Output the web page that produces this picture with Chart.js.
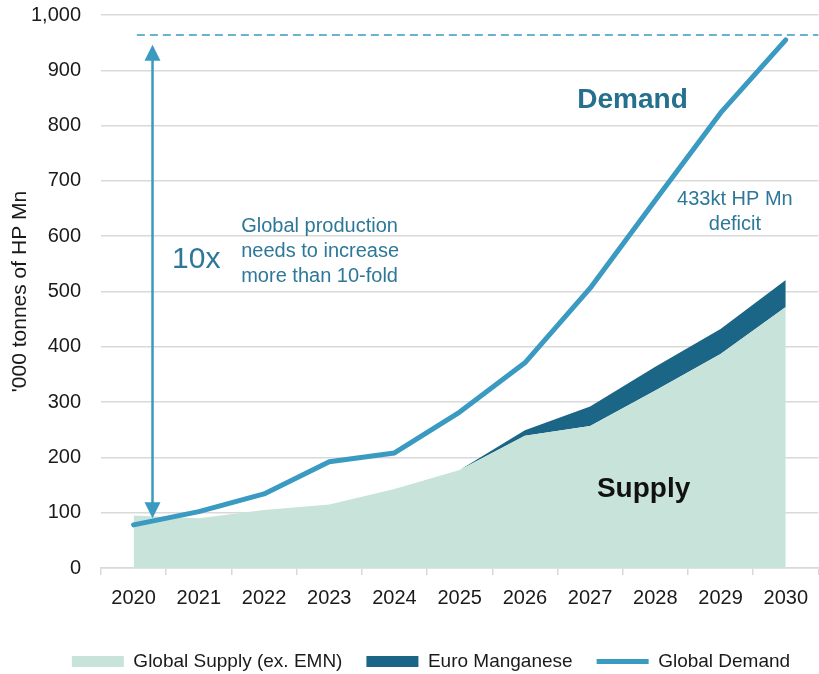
<!DOCTYPE html>
<html>
<head>
<meta charset="utf-8">
<script src="https://cdn.jsdelivr.net/npm/chart.js@4.4.1/dist/chart.umd.min.js"></script>
<style>
  html, body { margin: 0; padding: 0; background: #fff; }
  #wrap { width: 819px; height: 674px; position: relative; }
</style>
</head>
<body>
<div id="wrap"><canvas id="myChart"></canvas></div>
<script>
const years = ['2020', '2021', '2022', '2023', '2024', '2025', '2026', '2027', '2028', '2029', '2030'];
const globalSupply = [95, 90, 105, 115, 143, 177, 239, 257, 321, 387, 472];
const euroManganese = [null, null, null, null, null, 0, 10, 35, 43, 45, 49];
const globalDemand = [78, 102, 134, 192, 208, 282, 371, 506, 665, 823, 955];
const yTicks = { min: 0, max: 1000, step: 100 };

// target line and "10x" arrow, in data units
const targetLevel = 964;
const arrowSpan = [90, 946];

// notes: [text, category position, value, kind]
const notes = [
  ['Demand', 7.65, 846, 'head'],
  ['Supply', 7.82, 143, 'headDark'],
  ['433kt HP Mn', 9.22, 666, 'small'],
  ['deficit', 9.22, 621, 'small'],
  ['10x', 0.96, 558, 'big'],
  ['Global production', 1.65, 618, 'left'],
  ['needs to increase', 1.65, 573, 'left'],
  ['more than 10-fold', 1.65, 528, 'left']
];

const FONT = '"Liberation Sans", Arial, sans-serif';
const teal = '#3a9ac1';
const noteColor = '#2d7898';

const notesPlugin = {
  id: 'notes',
  beforeDraw(chart) {
    // the legend in the original sits a little right of the page centre
    if (chart.legend) {
      chart.legend.left = 40;
    }
  },
  afterDatasetsDraw(chart) {
    const { ctx, chartArea, scales: { x, y } } = chart;
    ctx.save();

    // dashed target line
    ctx.strokeStyle = teal;
    ctx.lineWidth = 1.5;
    ctx.setLineDash([8, 5]);
    ctx.beginPath();
    ctx.moveTo(x.getPixelForValue(0.05), y.getPixelForValue(targetLevel));
    ctx.lineTo(chartArea.right, y.getPixelForValue(targetLevel));
    ctx.stroke();
    ctx.setLineDash([]);

    // double-headed arrow
    const ax = x.getPixelForValue(0.29);
    const yLo = y.getPixelForValue(arrowSpan[0]);
    const yHi = y.getPixelForValue(arrowSpan[1]);
    ctx.lineWidth = 2.5;
    ctx.beginPath();
    ctx.moveTo(ax, yLo - 14);
    ctx.lineTo(ax, yHi + 14);
    ctx.stroke();
    ctx.fillStyle = teal;
    ctx.beginPath();
    ctx.moveTo(ax, yHi);
    ctx.lineTo(ax - 8, yHi + 16);
    ctx.lineTo(ax + 8, yHi + 16);
    ctx.closePath();
    ctx.fill();
    ctx.beginPath();
    ctx.moveTo(ax, yLo);
    ctx.lineTo(ax - 8, yLo - 16);
    ctx.lineTo(ax + 8, yLo - 16);
    ctx.closePath();
    ctx.fill();

    ctx.textBaseline = 'middle';
    notes.forEach(([text, xi, v, kind]) => {
      const px = x.getPixelForValue(xi);
      const py = y.getPixelForValue(v);
      if (kind === 'head') {
        ctx.font = 'bold 28px ' + FONT;
        ctx.fillStyle = '#256f8f';
        ctx.textAlign = 'center';
      } else if (kind === 'headDark') {
        ctx.font = 'bold 28px ' + FONT;
        ctx.fillStyle = '#111';
        ctx.textAlign = 'center';
      } else if (kind === 'big') {
        ctx.font = '30px ' + FONT;
        ctx.fillStyle = noteColor;
        ctx.textAlign = 'center';
      } else if (kind === 'small') {
        ctx.font = '20px ' + FONT;
        ctx.fillStyle = noteColor;
        ctx.textAlign = 'center';
      } else {
        ctx.font = '20px ' + FONT;
        ctx.fillStyle = noteColor;
        ctx.textAlign = 'left';
      }
      ctx.fillText(text, px, py);
    });
    ctx.restore();
  }
};

const ctx = document.getElementById('myChart').getContext('2d');
new Chart(ctx, {
  type: 'line',
  data: {
    labels: years,
    datasets: [
      {
        label: 'Global Supply (ex. EMN)',
        data: globalSupply,
        backgroundColor: '#c8e4da',
        borderColor: '#c8e4da',
        borderWidth: 0,
        pointRadius: 0,
        pointStyle: 'rect',
        fill: 'origin'
      },
      {
        label: 'Euro Manganese',
        data: euroManganese,
        backgroundColor: '#1b6686',
        borderColor: '#1b6686',
        borderWidth: 0,
        pointRadius: 0,
        pointStyle: 'rect',
        fill: '-1'
      },
      {
        label: 'Global Demand',
        data: globalDemand,
        stack: 'demand',
        borderColor: teal,
        backgroundColor: teal,
        borderWidth: 5,
        borderCapStyle: 'round',
        borderJoinStyle: 'round',
        pointRadius: 0,
        pointStyle: 'line',
        fill: false
      }
    ]
  },
  options: {
    responsive: true,
    maintainAspectRatio: false,
    animation: false,
    layout: { padding: { top: 0, left: 0, right: -3, bottom: -7 } },
    scales: {
      x: {
        offset: true,
        grid: {
          offset: true,
          drawOnChartArea: false,
          drawTicks: true,
          tickLength: 7,
          color: '#d9d9d9',
          lineWidth: 1.5
        },
        border: { display: true, color: '#d9d9d9', width: 1.5 },
        ticks: { color: '#1a1a1a', font: { family: FONT, size: 20 }, padding: 11, maxRotation: 0 },
        afterFit(scale) { scale.height = 60; }
      },
      y: {
        stacked: true,
        min: yTicks.min,
        max: yTicks.max,
        border: { display: false },
        grid: { color: '#d9d9d9', lineWidth: 1.5, drawTicks: true, tickLength: 17, tickColor: 'rgba(0,0,0,0)' },
        ticks: {
          stepSize: yTicks.step,
          color: '#1a1a1a',
          font: { family: FONT, size: 20 },
          padding: 3,
          callback: (v) => v.toLocaleString('en-US')
        },
        title: {
          display: true,
          text: "'000 tonnes of HP Mn",
          color: '#1a1a1a',
          font: { family: FONT, size: 21 },
          padding: { top: 8, bottom: 0 }
        },
        afterFit(scale) { scale.width = 101; }
      }
    },
    plugins: {
      filler: { drawTime: 'beforeDatasetsDraw' },
      tooltip: { enabled: false },
      legend: {
        position: 'bottom',
        labels: {
          usePointStyle: true,
          pointStyleWidth: 52,
          boxHeight: 11,
          padding: 24,
          color: '#1a1a1a',
          font: { family: FONT, size: 19 }
        }
      }
    }
  },
  plugins: [notesPlugin]
});
</script>
</body>
</html>
